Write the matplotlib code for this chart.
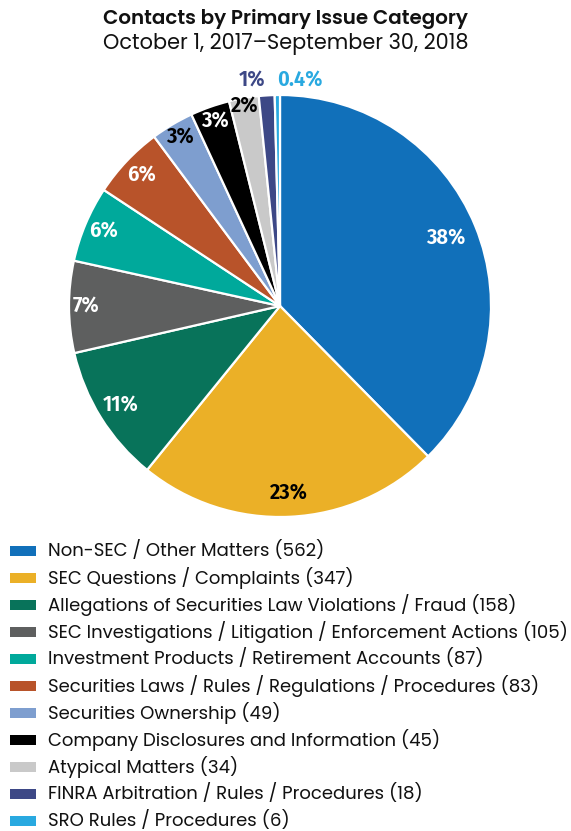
import matplotlib
matplotlib.use("Agg")
import matplotlib.pyplot as plt
from matplotlib import font_manager as fm
import numpy as np

categories = [
    "Non-SEC / Other Matters",
    "SEC Questions / Complaints",
    "Allegations of Securities Law Violations / Fraud",
    "SEC Investigations / Litigation / Enforcement Actions",
    "Investment Products / Retirement Accounts",
    "Securities Laws / Rules / Regulations / Procedures",
    "Securities Ownership",
    "Company Disclosures and Information",
    "Atypical Matters",
    "FINRA Arbitration / Rules / Procedures",
    "SRO Rules / Procedures",
]
counts = [562, 347, 158, 105, 87, 83, 49, 45, 34, 18, 6]
pct_labels = ["38%", "23%", "11%", "7%", "6%", "6%", "3%", "3%", "2%", "1%", "0.4%"]
colors = ["#1170ba", "#ebb027", "#08735a", "#5e5f5f", "#00a99b", "#b8532a",
          "#7e9ecf", "#000000", "#c9c9c9", "#3d4886", "#29a9e0"]
label_colors = ["white", "black", "white", "white", "white", "white",
                "black", "white", "black", "#3d4886", "#29a9e0"]
label_radius = [0.85, 0.89, 0.89, 0.92, 0.91, 0.90, 0.93, 0.93, 0.96, 1.07, 1.07]
title = "Contacts by Primary Issue Category"
subtitle = "October 1, 2017\u2013September 30, 2018"

# pick a geometric sans with regular and bold static weights
def pick_family():
    for cand in ["Poppins", "Montserrat", "Work Sans", "Nunito Sans", "Raleway", "Lato"]:
        ws = [f.weight for f in fm.fontManager.ttflist if f.name == cand]
        ws = [w if isinstance(w, int) else 400 for w in ws]
        if 400 in ws and any(w >= 600 for w in ws):
            return cand
    return "DejaVu Sans"
FAM = pick_family()

W, H = 571, 831
fig = plt.figure(figsize=(W / 100, H / 100), dpi=100)
renderer = fig.canvas.get_renderer()

def fit(t, target_px):
    bb = t.get_window_extent(renderer)
    t.set_fontsize(t.get_fontsize() * target_px / bb.width)

cx, cy, R = 280, 306, 211
ax = fig.add_axes([(cx - R) / W, 1 - (cy + R) / H, 2 * R / W, 2 * R / H])
wedges, _ = ax.pie(counts, colors=colors, startangle=90, counterclock=False,
                   wedgeprops=dict(edgecolor="white", linewidth=1.6))
ax.set_xlim(-1, 1)
ax.set_ylim(-1, 1)
ax.set_aspect("equal")
ax.axis("off")

lab_font = dict(family=["Fira Sans Condensed", "DejaVu Sans"], weight="semibold", fontsize=16)
for i, w in enumerate(wedges):
    ang = np.deg2rad((w.theta1 + w.theta2) / 2)
    r = label_radius[i]
    x, y = r * np.cos(ang), r * np.sin(ang)
    ha = "center"
    if i == len(wedges) - 2:
        ha = "right"
    elif i == len(wedges) - 1:
        ha = "left"
    ax.text(x, y, pct_labels[i], ha=ha, va="center", color=label_colors[i],
            clip_on=False, **lab_font)

t1 = fig.text(0.5, 1 - 19 / H, title, ha="center", va="center",
              fontsize=12.5, weight="semibold", family=FAM, color="#111111")
t2 = fig.text(0.5, 1 - 44 / H, subtitle, ha="center", va="center",
              fontsize=12.5, weight="normal", family=FAM, color="#111111")
fit(t1, 366)
fit(t2, 366)

leg_labels = [f"{c} ({n})" for c, n in zip(categories, counts)]
y0 = 551
dy = 27
texts = []
for i, (lab, col) in enumerate(zip(leg_labels, colors)):
    yc = y0 + i * dy
    fig.patches.append(plt.Rectangle((10 / W, 1 - (yc + 5) / H), 26 / W, 10 / H,
                                     transform=fig.transFigure, facecolor=col,
                                     edgecolor="none"))
    texts.append(fig.text(48 / W, 1 - yc / H, lab, ha="left", va="center", fontsize=11.5,
                          family=FAM, weight="normal", color="#111111"))
longest = max(texts, key=lambda t: t.get_window_extent(renderer).width)
fit(longest, 519)
for t in texts:
    t.set_fontsize(longest.get_fontsize())

fig.savefig("out.png", dpi=100)
